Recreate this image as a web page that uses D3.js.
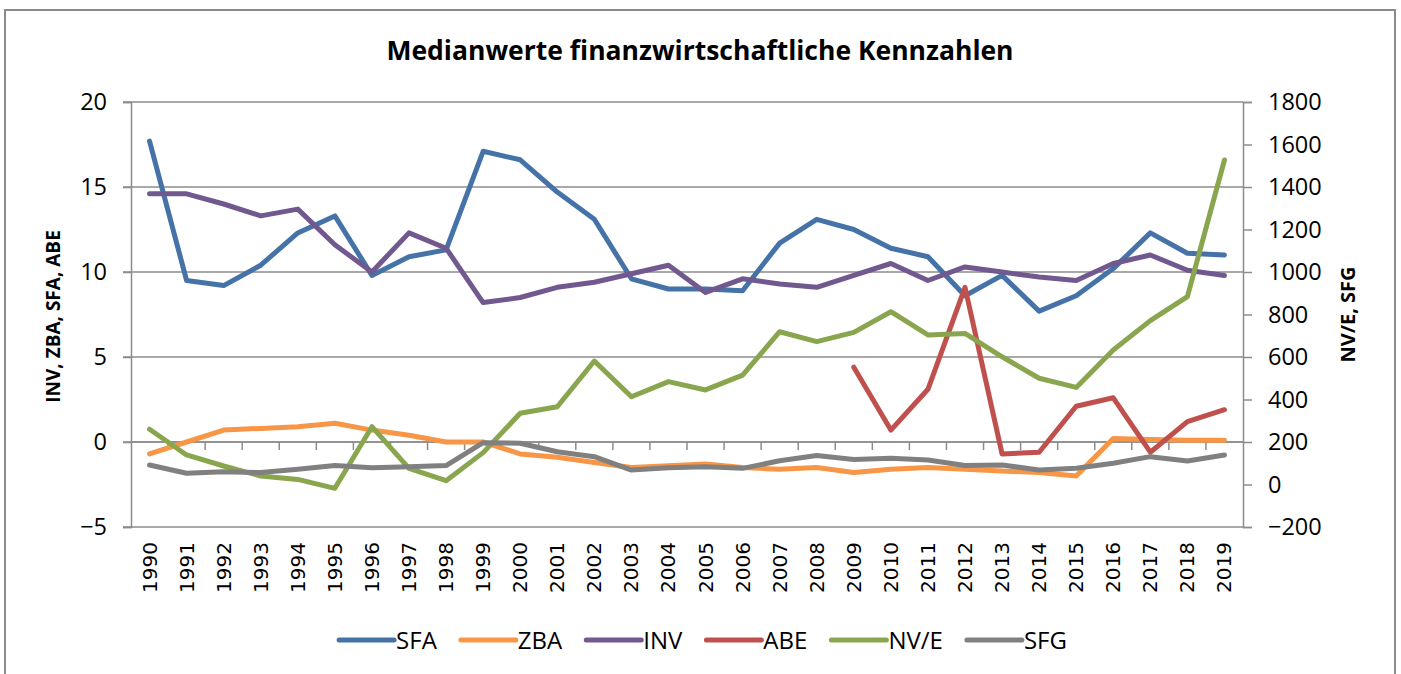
<!DOCTYPE html>
<html>
<head>
<meta charset="utf-8">
<script src="https://cdn.jsdelivr.net/npm/d3@7"></script>
<style>
  body { margin: 0; background: #fff; }
  text { font-family: "Open Sans", "Noto Sans", sans-serif; fill: #000; }
</style>
</head>
<body>
<div class="chart"></div>
<script>
const years = ["1990", "1991", "1992", "1993", "1994", "1995", "1996", "1997", "1998", "1999",
  "2000", "2001", "2002", "2003", "2004", "2005", "2006", "2007", "2008", "2009",
  "2010", "2011", "2012", "2013", "2014", "2015", "2016", "2017", "2018", "2019"];

// left axis series
const sfa = [17.7, 9.5, 9.2, 10.4, 12.3, 13.3, 9.8, 10.9, 11.3, 17.1, 16.6, 14.7, 13.1, 9.6, 9.0,
  9.0, 8.9, 11.7, 13.1, 12.5, 11.4, 10.9, 8.6, 9.8, 7.7, 8.6, 10.2, 12.3, 11.1, 11.0];
const zba = [-0.7, 0.0, 0.7, 0.8, 0.9, 1.1, 0.7, 0.4, 0.0, 0.0, -0.7, -0.9, -1.2, -1.5, -1.4,
  -1.3, -1.5, -1.6, -1.5, -1.8, -1.6, -1.5, -1.6, -1.7, -1.8, -2.0, 0.2, 0.15, 0.1, 0.1];
const inv = [14.6, 14.6, 14.0, 13.3, 13.7, 11.6, 10.0, 12.3, 11.4, 8.2, 8.5, 9.1, 9.4, 9.9, 10.4,
  8.8, 9.6, 9.3, 9.1, 9.8, 10.5, 9.5, 10.3, 10.0, 9.7, 9.5, 10.5, 11.0, 10.1, 9.8];
const abe = [null, null, null, null, null, null, null, null, null, null, null, null, null, null, null,
  null, null, null, null, 4.4, 0.7, 3.1, 9.1, -0.7, -0.6, 2.1, 2.6, -0.6, 1.2, 1.9];

// right axis series
const nve = [260, 139, 87, 40, 24, -18, 272, 76, 18, 150, 335, 366, 581, 413, 484,
  445, 515, 719, 672, 716, 813, 704, 711, 601, 500, 457, 633, 771, 884, 1527];
const sfg = [92, 53, 60, 56, 72, 89, 79, 84, 89, 197, 194, 154, 131, 68, 79,
  84, 76, 112, 136, 118, 123, 115, 89, 92, 68, 76, 100, 131, 111, 139];

const leftTicks = [-5, 0, 5, 10, 15, 20];
const rightTicks = [-200, 0, 200, 400, 600, 800, 1000, 1200, 1400, 1600, 1800];

const series = [
  { name: "SFA", values: sfa, axis: "left", color: "#4572a7" },
  { name: "ZBA", values: zba, axis: "left", color: "#f79646" },
  { name: "INV", values: inv, axis: "left", color: "#71588f" },
  { name: "ABE", values: abe, axis: "left", color: "#c0504d" },
  { name: "NV/E", values: nve, axis: "right", color: "#89a54e" },
  { name: "SFG", values: sfg, axis: "right", color: "#808080" },
];

const width = 1401, height = 674;
const plot = { left: 131, right: 1243, top: 102, bottom: 527 };
const gridColor = "#8c8c8c";

const svg = d3.select(".chart").append("svg")
  .attr("width", width)
  .attr("height", height);

// outer frame
svg.append("path")
  .attr("d", `M5,${height} V10 H1395 V${height}`)
  .attr("fill", "none")
  .attr("stroke", "#8a8a8a")
  .attr("stroke-width", 2);

svg.append("text")
  .attr("x", 700)
  .attr("y", 60)
  .attr("text-anchor", "middle")
  .style("font-size", "26.5px")
  .style("font-weight", "bold")
  .text("Medianwerte finanzwirtschaftliche Kennzahlen");

const x = d3.scaleBand().domain(years).range([plot.left, plot.right]).padding(0);
const yL = d3.scaleLinear().domain([-5, 20]).range([plot.bottom, plot.top]);
const yR = d3.scaleLinear().domain([-200, 1800]).range([plot.bottom, plot.top]);

// gridlines (left axis majors)
svg.append("g")
  .selectAll("line")
  .data(leftTicks)
  .join("line")
  .attr("x1", plot.left - 8)
  .attr("x2", plot.right)
  .attr("y1", d => yL(d))
  .attr("y2", d => yL(d))
  .attr("stroke", gridColor)
  .attr("stroke-width", 1.5);

// left axis
const leftAxis = svg.append("g")
  .attr("transform", `translate(${plot.left},0)`)
  .call(d3.axisLeft(yL).tickValues(leftTicks).tickSize(8).tickPadding(16).tickFormat(d3.format("d")));
leftAxis.select(".domain").attr("stroke", gridColor).attr("stroke-width", 1.5);
leftAxis.selectAll(".tick line").attr("stroke", gridColor).attr("stroke-width", 1.5);
leftAxis.selectAll("text").style("font-size", "23.5px").attr("font-family", null);

// right axis
const rightAxis = svg.append("g")
  .attr("transform", `translate(${plot.right},0)`)
  .call(d3.axisRight(yR).tickValues(rightTicks).tickSize(9).tickPadding(16).tickFormat(d3.format("d")));
rightAxis.select(".domain").attr("stroke", gridColor).attr("stroke-width", 1.5);
rightAxis.selectAll(".tick line").attr("stroke", gridColor).attr("stroke-width", 1.5);
rightAxis.selectAll("text").style("font-size", "23.5px").attr("font-family", null);

// category axis crossing at 0, ticks between categories
const xAxisY = yL(0);
svg.append("line")
  .attr("x1", plot.left).attr("x2", plot.right)
  .attr("y1", xAxisY).attr("y2", xAxisY)
  .attr("stroke", gridColor).attr("stroke-width", 1.5);
svg.append("g")
  .selectAll("line")
  .data(years.slice(1))
  .join("line")
  .attr("x1", d => x(d)).attr("x2", d => x(d))
  .attr("y1", xAxisY).attr("y2", xAxisY + 8)
  .attr("stroke", gridColor).attr("stroke-width", 1.5);

// year labels at the bottom
svg.append("g")
  .selectAll("text")
  .data(years)
  .join("text")
  .attr("transform", d => `translate(${x(d) + x.bandwidth() / 2 + 7},${plot.bottom + 15}) rotate(-90)`)
  .attr("text-anchor", "end")
  .style("font-family", "'DejaVu Sans', sans-serif")
  .style("font-size", "20px")
  .text(d => d);

// axis titles
svg.append("text")
  .attr("transform", `translate(60,${(plot.top + plot.bottom) / 2 + 2}) rotate(-90)`)
  .attr("text-anchor", "middle")
  .style("font-size", "19px")
  .style("font-weight", "bold")
  .text("INV, ZBA, SFA, ABE");

svg.append("text")
  .attr("transform", `translate(1355,${(plot.top + plot.bottom) / 2}) rotate(-90)`)
  .attr("text-anchor", "middle")
  .style("font-size", "20px")
  .style("font-weight", "bold")
  .text("NV/E, SFG");

// lines
const lineGen = scale => d3.line()
  .defined(d => d != null)
  .x((d, i) => x(years[i]) + x.bandwidth() / 2)
  .y(d => scale(d));

svg.append("g")
  .selectAll("path")
  .data(series)
  .join("path")
  .attr("d", s => lineGen(s.axis === "left" ? yL : yR)(s.values))
  .attr("fill", "none")
  .attr("stroke", s => s.color)
  .attr("stroke-width", 5)
  .attr("stroke-linecap", "round")
  .attr("stroke-linejoin", "round");

// legend
const legend = svg.append("g");
const legendY = 640;
let cursor = 0;
series.forEach(s => {
  const item = legend.append("g").attr("transform", `translate(${cursor},0)`);
  item.append("line")
    .attr("x1", 0).attr("x2", 55)
    .attr("y1", legendY).attr("y2", legendY)
    .attr("stroke", s.color)
    .attr("stroke-width", 5)
    .attr("stroke-linecap", "round");
  const t = item.append("text")
    .attr("x", 57)
    .attr("y", legendY + 8.5)
    .style("font-size", "24px")
    .text(s.name);
  cursor += 57 + t.node().getComputedTextLength() + 24;
});
const legendWidth = cursor - 24;
legend.attr("transform", `translate(${703 - legendWidth / 2},0)`);
</script>
</body>
</html>
